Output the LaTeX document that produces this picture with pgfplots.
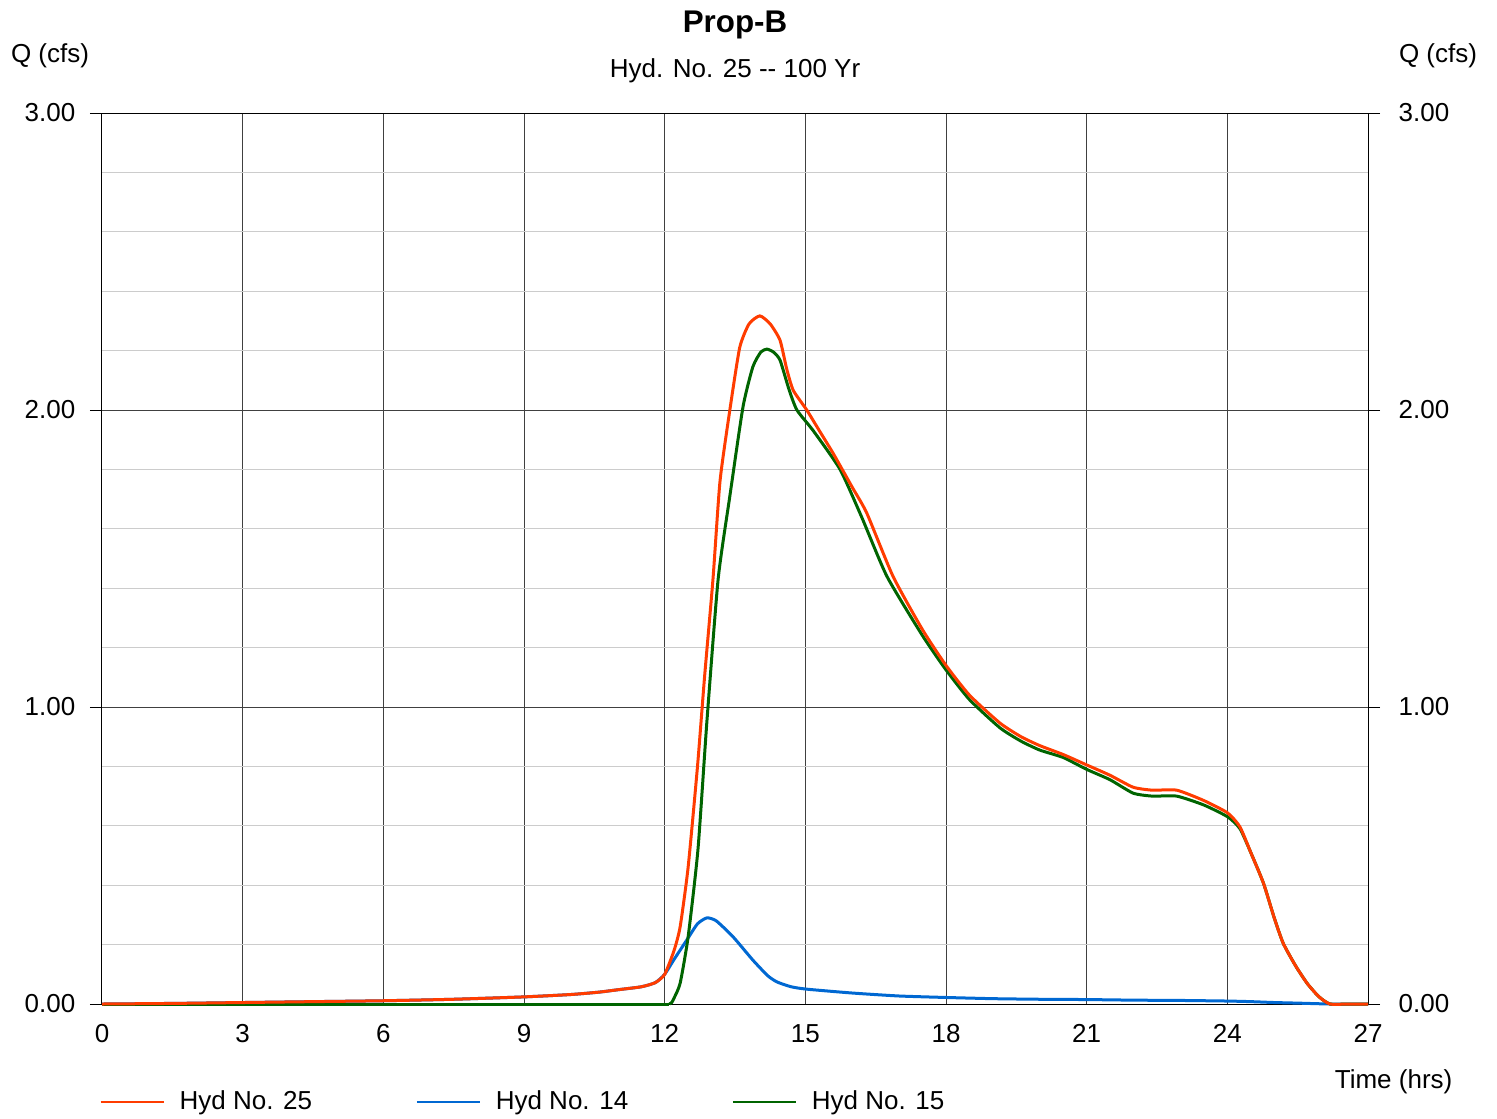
\documentclass[border=0pt]{standalone}
\usepackage{fontspec}
\setmainfont{Liberation Sans}
\usepackage{pgfplots}
\pgfplotsset{compat=1.18}
\definecolor{hred}{RGB}{255,60,0}
\definecolor{hblue}{RGB}{0,104,210}
\definecolor{hgreen}{RGB}{0,100,0}
\begin{document}
\fontsize{7.8pt}{9pt}\selectfont
\begin{tikzpicture}
\path (-30.6pt,-34.2pt) rectangle (418.5pt,301.2pt);
\begin{axis}[
  at={(0pt,0pt)}, anchor=south west,
  scale only axis, width=379.8pt, height=267.3pt,
  xmin=0, xmax=27, ymin=0, ymax=3,
  clip=false,
  xtick={0,3,6,9,12,15,18,21,24,27},
  ytick={0,1,2,3},
  yticklabels={0.00,1.00,2.00,3.00},
  minor ytick={0.2,0.4,0.6,0.8,1.2,1.4,1.6,1.8,2.2,2.4,2.6,2.8},
  grid=both,
  major grid style={black!75, line width=0.3pt},
  minor grid style={black!20, line width=0.3pt},
  axis line style={black, line width=0.3pt},
  tick align=outside,
  xtick style={draw=none},
  ytick style={black, line width=0.3pt},
  major tick length=3.6pt,
  minor tick length=0pt,
  /pgf/number format/assume math mode=true,
  ticklabel style={font=\fontsize{7.8pt}{9pt}\selectfont},
  yticklabel style={anchor=east, inner sep=0pt, xshift=-4.2pt},
  xticklabel style={anchor=north, inner sep=0pt, yshift=-2.4pt},
  legend columns=3,
  legend style={at={(0,0)}, anchor=west, yshift=-29.4pt, xshift=-0.9pt, draw=none, fill=none,
    inner sep=0pt, font=\fontsize{7.8pt}{9pt}\selectfont,
    nodes={inner sep=0pt},
    /tikz/every odd column/.append style={column sep=4.5pt},
    /tikz/every even column/.append style={column sep=31.1pt}},
  legend image code/.code={\draw[#1] (0pt,0pt) -- (18.9pt,0pt);},
  every axis plot/.append style={line width=0.9pt, line join=round, smooth, tension=0.35},
]
\addlegendimage{hred, line width=0.6pt}\addlegendentry{Hyd No. 25}
\addlegendimage{hblue, line width=0.6pt}\addlegendentry{Hyd No. 14}
\addlegendimage{hgreen, line width=0.6pt}\addlegendentry{Hyd No. 15}
% Hyd No. 14
\addplot[hblue, forget plot] coordinates {
(0,0) (1.5,0.002) (3,0.005) (4.5,0.008) (6,0.011) (7.5,0.016) (9,0.024)
(10,0.032) (10.6,0.040) (11,0.048) (11.5,0.058) (11.8,0.072) (12,0.10)
(12.2,0.15) (12.47,0.215) (12.7,0.27) (12.9,0.29) (13.1,0.28) (13.46,0.226)
(13.88,0.148) (14.2,0.095) (14.4,0.074) (14.7,0.058) (15.03,0.05) (16,0.037)
(17,0.027) (18,0.022) (19,0.018) (20,0.016) (21,0.015) (22,0.013) (23,0.012)
(24,0.010) (24.5,0.008) (25,0.005) (25.5,0.003) (26.2,0) (27,0)
};
% Hyd No. 15
\addplot[hgreen, forget plot, sharp plot] coordinates {
(0,0) (12.1,0)
};
\addplot[hgreen, forget plot] coordinates {
(12.1,0) (12.15,0.005) (12.2,0.02) (12.33,0.07) (12.5,0.226) (12.71,0.52) (12.9,0.95)
(13.14,1.43) (13.39,1.71) (13.67,2.01) (13.88,2.145) (14.05,2.195) (14.18,2.205)
(14.32,2.195) (14.46,2.168) (14.65,2.07) (14.82,2.0) (15.17,1.93) (15.74,1.80)
(16.2,1.64) (16.74,1.44) (17.5,1.24) (18.0,1.125) (18.5,1.025) (19.15,0.93)
(19.6,0.885) (20,0.855) (20.5,0.83) (21.0,0.79) (21.5,0.755) (21.99,0.71)
(22.4,0.70) (22.92,0.70) (23.5,0.67) (24.01,0.63) (24.27,0.59) (24.5,0.51)
(24.77,0.407) (25.0,0.29) (25.19,0.205) (25.45,0.13) (25.7,0.07) (25.95,0.025)
(26.19,0) (26.6,0) (27,0)
};
% Hyd No. 25
\addplot[hred, forget plot] coordinates {
(0,0) (1.5,0.002) (3,0.005) (4.5,0.008) (6,0.011) (7.5,0.016) (9,0.024)
(10,0.032) (10.6,0.040) (11,0.048) (11.5,0.058) (11.8,0.072) (12,0.10)
(12.2,0.18) (12.33,0.26) (12.5,0.46) (12.7,0.80) (12.85,1.10) (13.03,1.43)
(13.18,1.76) (13.39,2.00) (13.6,2.21) (13.8,2.29) (14.03,2.317) (14.25,2.29)
(14.46,2.235) (14.6,2.14) (14.74,2.067) (15.03,2.0) (15.3,1.93) (15.59,1.855)
(16.0,1.74) (16.31,1.653) (16.87,1.44) (17.5,1.26) (18.0,1.14) (18.5,1.04)
(19.15,0.946) (19.6,0.90) (20,0.87) (20.5,0.84) (21.0,0.805) (21.5,0.77)
(21.99,0.73) (22.4,0.72) (22.92,0.72) (23.5,0.685) (24.01,0.643) (24.27,0.596)
(24.5,0.51) (24.77,0.407) (25.0,0.29) (25.19,0.205) (25.45,0.13) (25.7,0.07)
(25.95,0.025) (26.19,0) (26.6,0) (27,0)
};
\end{axis}
\begin{axis}[
  at={(0pt,0pt)}, anchor=south west,
  scale only axis, width=379.8pt, height=267.3pt,
  xmin=0, xmax=27, ymin=0, ymax=3,
  axis line style={draw=none},
  xtick=\empty,
  ytick={0,1,2,3},
  yticklabels={0.00,1.00,2.00,3.00},
  ytick style={draw=none},
  yticklabel pos=right,
  ticklabel style={font=\fontsize{7.8pt}{9pt}\selectfont},
  yticklabel style={anchor=west, inner sep=0pt, xshift=9pt},
]
\end{axis}
\node[font=\fontsize{9.4pt}{11pt}\selectfont\bfseries] at (189.9pt,293.7pt) {Prop-B};
\node[font=\fontsize{7.8pt}{9pt}\selectfont] at (189.9pt,279.9pt) {Hyd. No. 25 -{}- 100 Yr};
\node[font=\fontsize{7.8pt}{9pt}\selectfont] at (-15.6pt,284.4pt) {Q (cfs)};
\node[font=\fontsize{7.8pt}{9pt}\selectfont] at (400.8pt,284.4pt) {Q (cfs)};
\node[font=\fontsize{7.8pt}{9pt}\selectfont, anchor=east, inner sep=0pt] at (405.3pt,-23.4pt) {Time (hrs)};
\end{tikzpicture}
\end{document}
